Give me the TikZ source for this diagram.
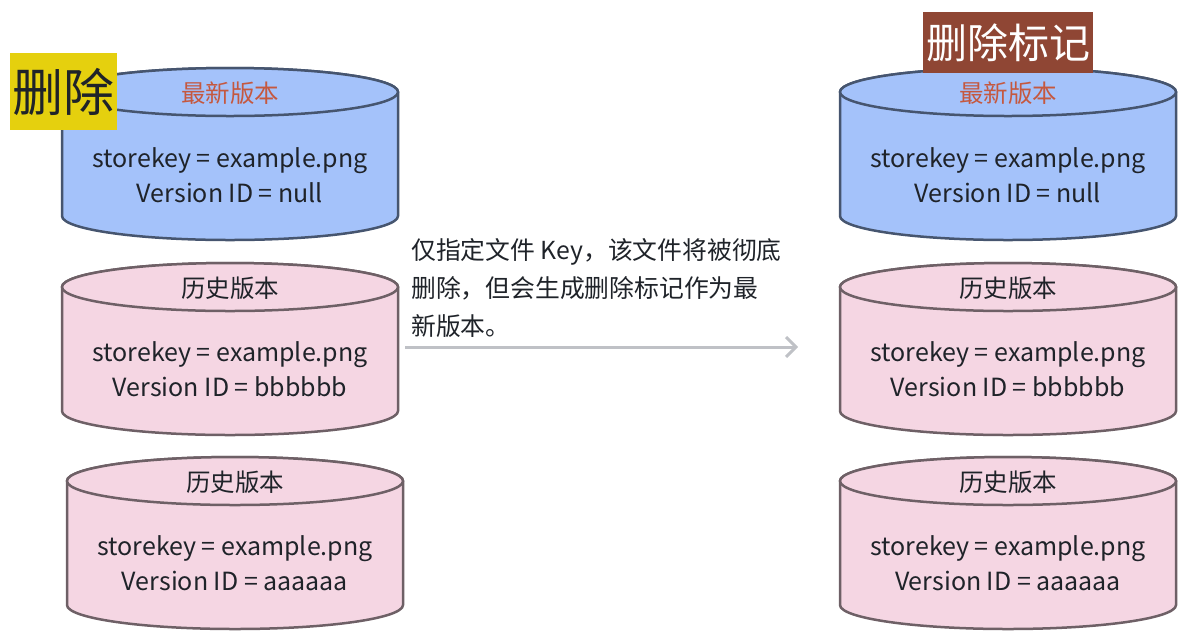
\documentclass[tikz,border=0pt]{standalone}
\usepackage{fontspec}
\setmainfont{Noto Sans CJK SC}
\usetikzlibrary{arrows.meta, positioning}
\definecolor{cylblue}{HTML}{A4C2FA}
\definecolor{cylblueline}{HTML}{46556F}
\definecolor{cylpink}{HTML}{F5D6E3}
\definecolor{cylpinkline}{HTML}{6E6066}
\definecolor{headred}{HTML}{C5583F}
\definecolor{textdark}{HTML}{1F2329}
\definecolor{delyellow}{HTML}{E5D00E}
\definecolor{markbrown}{HTML}{8F4634}
\definecolor{arrowgray}{HTML}{BFC1C6}

\begin{document}
\begin{tikzpicture}[x=1pt, y=-1pt,
    newcyl/.style={fill=cylblue, draw=cylblueline, line width=2.5pt},
    oldcyl/.style={fill=cylpink, draw=cylpinkline, line width=2.5pt},
    head/.style={font=\fontsize{24.5}{28}\selectfont, text=textdark, inner sep=0pt},
    newhead/.style={head, text=headred},
    body/.style={font=\fontsize{25}{35}\selectfont, align=center, text=textdark, inner sep=0pt},
    note/.style={font=\fontsize{24.8}{38}\selectfont, align=left, text=textdark, inner sep=0pt, anchor=west},
    flow/.style={draw=arrowgray, line width=3pt, -{Straight Barb[angle=90:14pt]}},
]
    \useasboundingbox (0,0) rectangle (1190,633);

    % cylinders
    \foreach \cx/\cy/\kind in {230/92/newcyl, 230/287/oldcyl, 235/481/oldcyl,
                               1008/92/newcyl, 1008/287/oldcyl, 1008/481/oldcyl}{
        \path[\kind] (\cx-168,\cy) -- (\cx-168,\cy+124)
            arc[start angle=180, end angle=0, x radius=168, y radius=24]
            -- (\cx+168,\cy)
            arc[start angle=0, end angle=-180, x radius=168, y radius=24] -- cycle;
        \path[\kind] (\cx,\cy) ellipse[x radius=168, y radius=24];
    }

    % left side
    \node[newhead] (lhead1) at (230,93) {最新版本};
    \node[body] (lbody1) at (230,175) {storekey = example.png\\Version ID = null};
    \node[head] (lhead2) at (230,288) {历史版本};
    \node[body] (lbody2) at (230,369) {storekey = example.png\\Version ID = bbbbbb};
    \node[head] (lhead3) at (235,482) {历史版本};
    \node[body] (lbody3) at (235,563) {storekey = example.png\\Version ID = aaaaaa};

    % right side
    \node[newhead] (rhead1) at (1008,93) {最新版本};
    \node[body] (rbody1) at (1008,175) {storekey = example.png\\Version ID = null};
    \node[head] (rhead2) at (1008,288) {历史版本};
    \node[body] (rbody2) at (1008,369) {storekey = example.png\\Version ID = bbbbbb};
    \node[head] (rhead3) at (1008,482) {历史版本};
    \node[body] (rbody3) at (1008,563) {storekey = example.png\\Version ID = aaaaaa};

    % tags
    \node[fill=delyellow, text=textdark, font=\fontsize{51}{51}\selectfont,
          minimum width=107pt, minimum height=77pt, inner sep=0pt] (deltag) at (63.5,91.5) {删除};
    \node[fill=markbrown, text=white, font=\fontsize{41}{41}\selectfont,
          minimum width=170pt, minimum height=61pt, inner sep=0pt] (marktag) at (1008,42.5) {删除标记};

    % action
    \node[note] (action) at (411,288) {仅指定文件 Key，该文件将被彻底\\删除，但会生成删除标记作为最\\新版本。};
    \coordinate (flowstart) at (405,347);
    \coordinate (flowend) at (798,347);
    \draw[flow] (flowstart) -- (flowend);
\end{tikzpicture}
\end{document}
